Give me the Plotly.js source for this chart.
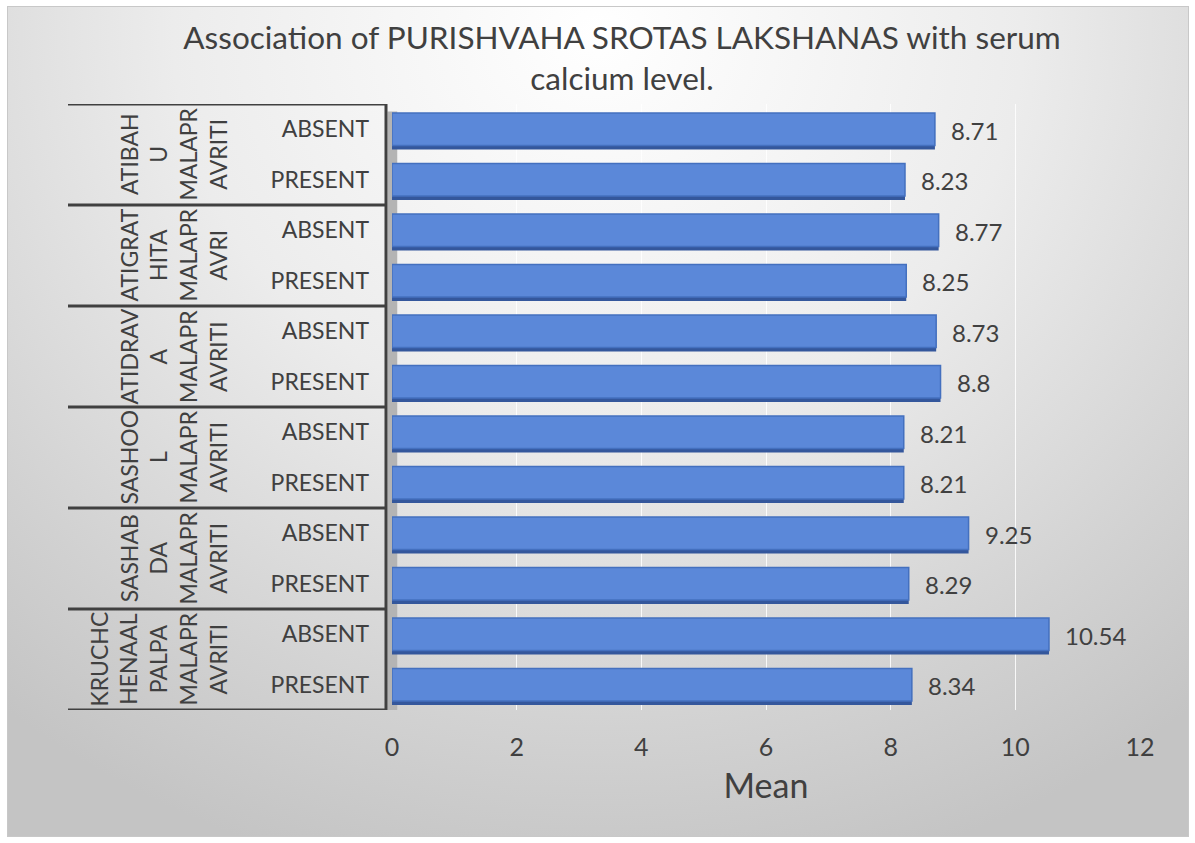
<!DOCTYPE html>
<html>
<head>
<meta charset="utf-8">
<script src="https://cdn.plot.ly/plotly-3.0.1.min.js"></script>
<style>
  html, body { margin: 0; padding: 0; background: #ffffff; }
  #bg {
    position: absolute; left: 7px; top: 6px; width: 1180px; height: 829px;
    border: 1px solid #c8c8c8;
    background: radial-gradient(ellipse 80% 105% at 50% 3%, #ffffff 0%, #ececec 45%, #d2d2d2 80%, #c4c4c4 100%);
  }
  #chart { position: absolute; left: 0; top: 0; width: 1195px; height: 843px; }
</style>
</head>
<body>
<div id="bg"></div>
<div id="chart"></div>
<script>
// ---- data ----
const groupLabels = [
  "ATIBAH<br>U<br>MALAPR<br>AVRITI",
  "ATIGRAT<br>HITA<br>MALAPR<br>AVRI",
  "ATIDRAV<br>A<br>MALAPR<br>AVRITI",
  "SASHOO<br>L<br>MALAPR<br>AVRITI",
  "SASHAB<br>DA<br>MALAPR<br>AVRITI",
  "KRUCHC<br>HENAAL<br>PALPA<br>MALAPR<br>AVRITI"
];
const statusLabels = ["ABSENT", "PRESENT"];
const absentMeans  = [8.71, 8.77, 8.73, 8.21, 9.25, 10.54];
const presentMeans = [8.23, 8.25, 8.80, 8.21, 8.29, 8.34];
const xTickVals = [0, 2, 4, 6, 8, 10, 12];

// ---- build rows (top to bottom) ----
const yIdx = [], xVals = [], yText = [];
groupLabels.forEach((g, gi) => {
  [absentMeans[gi], presentMeans[gi]].forEach((v, si) => {
    yIdx.push(gi * 2 + si);
    xVals.push(v);
    yText.push(statusLabels[si]);
  });
});

const textColor = '#404040';
const fontFam = 'Lato, "Open Sans", sans-serif';
const barW = 0.64;

const shadow = {
  type: 'bar', orientation: 'h', x: xVals, y: yIdx,
  width: barW, offset: -barW / 2 + 0.08,
  marker: { color: '#34579c', line: { width: 0 } },
  hoverinfo: 'skip'
};
const trace = {
  type: 'bar', orientation: 'h', x: xVals, y: yIdx,
  width: barW, offset: -barW / 2,
  marker: { color: '#5b88d9', line: { color: '#4470bf', width: 1.5 } },
  hoverinfo: 'x'
};

const annotations = [];
// value labels
xVals.forEach((v, i) => {
  annotations.push({
    x: v, y: yIdx[i], xref: 'x', yref: 'y', text: String(v),
    showarrow: false, xanchor: 'left', xshift: 14, yshift: -1,
    font: { family: fontFam, size: 24, color: textColor }
  });
});
// group labels
groupLabels.forEach((g, gi) => {
  annotations.push({
    x: (234 - 392) / 748, y: gi * 2 + 0.5, xref: 'paper', yref: 'y', text: g,
    showarrow: false, textangle: -90, xanchor: 'right', yanchor: 'middle',
    font: { family: fontFam, size: 23, color: textColor }
  });
});

const shapes = [];
const lineX0 = (68 - 392) / 748, lineX1 = (386 - 392) / 748;
// side wall shading
shapes.push({
  type: 'rect', xref: 'paper', yref: 'y', layer: 'below',
  x0: lineX1 + 0.002, x1: 0.007, y0: -0.35, y1: yIdx.length - 0.5,
  fillcolor: '#b4b4b4', line: { width: 0 }
});
for (let k = 0; k <= groupLabels.length; k++) {
  shapes.push({
    type: 'line', xref: 'paper', yref: 'y',
    x0: lineX0, x1: lineX1, y0: k * 2 - 0.5, y1: k * 2 - 0.5,
    line: { color: '#404040', width: 3 }
  });
}
shapes.push({
  type: 'line', xref: 'paper', yref: 'y',
  x0: lineX1, x1: lineX1, y0: -0.5, y1: yIdx.length - 0.5,
  line: { color: '#404040', width: 3 }
});

const layout = {
  width: 1195, height: 843,
  paper_bgcolor: 'rgba(0,0,0,0)',
  plot_bgcolor: 'rgba(0,0,0,0)',
  margin: { l: 392, r: 55, t: 104, b: 133 },
  title: {
    text: 'Association of PURISHVAHA SROTAS LAKSHANAS with serum<br>calcium level.',
    x: 0.5205, xanchor: 'center', xref: 'container', y: 0.942, yanchor: 'middle', yref: 'container',
    font: { family: fontFam, size: 31.5, color: textColor }
  },
  barmode: 'overlay',
  showlegend: false,
  xaxis: {
    range: [0, 12],
    tickvals: xTickVals,
    showgrid: true, gridcolor: 'rgba(255,255,255,0.85)', gridwidth: 1,
    zeroline: false, showline: false,
    ticks: '', ticklabelstandoff: 20,
    tickfont: { family: fontFam, size: 25, color: textColor },
    title: { text: 'Mean', standoff: 14, font: { family: fontFam, size: 34, color: textColor } },
    fixedrange: true
  },
  yaxis: {
    range: [yIdx.length - 0.5, -0.5],
    tickvals: yIdx, ticktext: yText,
    showgrid: false, zeroline: false, showline: false,
    ticks: '', ticklabelstandoff: 22,
    tickfont: { family: fontFam, size: 23, color: textColor },
    fixedrange: true
  },
  annotations: annotations,
  shapes: shapes
};

Plotly.newPlot('chart', [shadow, trace], layout, { displayModeBar: false, staticPlot: true });
</script>
</body>
</html>
